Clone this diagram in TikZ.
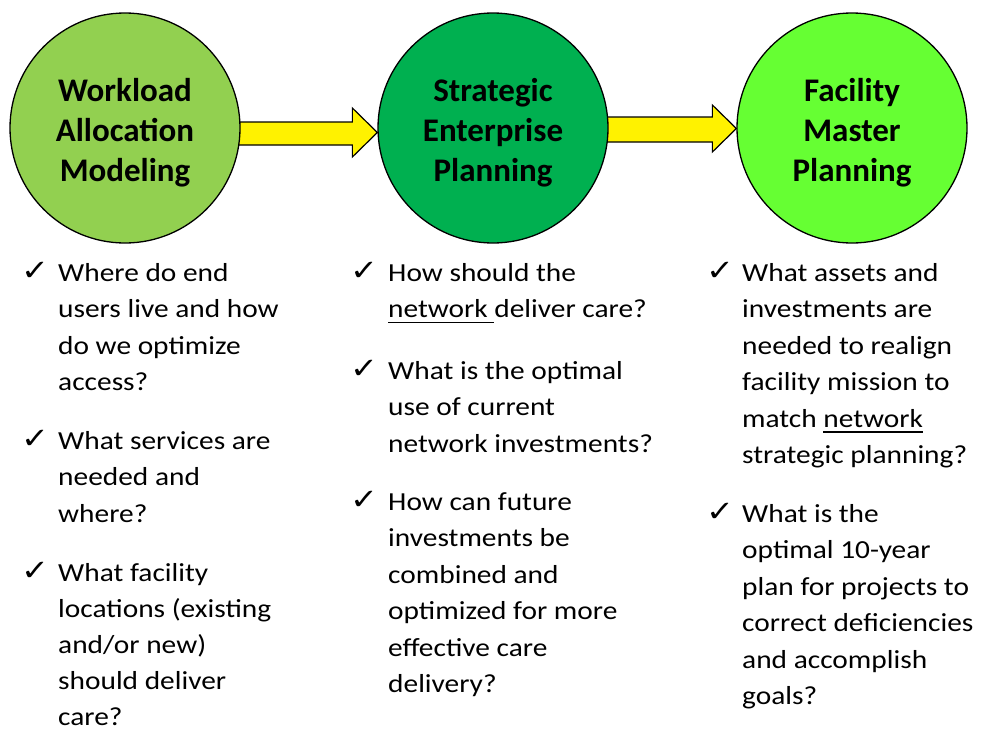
\documentclass[tikz,border=0pt]{standalone}
\usepackage{fontspec}
\setmainfont{Carlito}
\newfontfamily\bodyfont[FakeStretch=1.13]{Carlito}
\newfontfamily\symfont[FakeStretch=1.15]{DejaVu Sans}
\usetikzlibrary{calc}
\pgfdeclarelayer{bg}
\pgfsetlayers{bg,main}
\definecolor{gA}{HTML}{92D050}
\definecolor{gB}{HTML}{00B050}
\definecolor{gC}{HTML}{66FF33}
\newsavebox\ulbox
\newcommand\myul[1]{\sbox\ulbox{#1}\rlap{\rule[-5.5pt]{\wd\ulbox}{1.4pt}}\usebox\ulbox}
\newcommand\fl{\rule{0pt}{21pt}}
\newcommand\cl{\rule{0pt}{32pt}}
\begin{document}
\begin{tikzpicture}[x=1pt,y=-1pt,
  stage/.style={circle,draw=black,line width=1.3pt,minimum size=230pt,inner sep=0pt,align=center,
    font=\fontsize{33}{40}\selectfont\bfseries},
  bullet/.style={anchor=north west,inner sep=0pt,align=left,font=\bodyfont\fontsize{26}{36.5}\selectfont},
  tick/.style={anchor=base west,inner sep=0pt,font=\symfont\fontsize{29}{29}\selectfont},
  flow/.style={draw=black,line width=1.2pt,fill=yellow,line join=miter}]
\useasboundingbox (0,0) rectangle (982,728);
% stages
\node[stage,fill=gA] (c1) at (125,128) {\cl Workload\\Allocation\\Modeling};
\node[stage,fill=gB] (c2) at (493,128) {\cl Strategic\\Enterprise\\Planning};
\node[stage,fill=gC] (c3) at (852,128) {\cl Facility\\Master\\Planning};
% arrows
\begin{pgfonlayer}{bg}
\fill[white] (0,0) rectangle (982,728);
\draw[flow] ($(c1.east)+(-8,-6)$) -- ($(c2.west)+(-25,-6)$) -- ($(c2.west)+(-25,-20)$)
  -- ($(c2.west)+(0,4.5)$) -- ($(c2.west)+(-25,29)$) -- ($(c2.west)+(-25,17)$)
  -- ($(c1.east)+(-8,17)$) -- cycle;
\draw[flow] ($(c2.east)+(-8,-11)$) -- ($(c3.west)+(-24,-11)$) -- ($(c3.west)+(-24,-23)$)
  -- ($(c3.west)+(0,0.5)$) -- ($(c3.west)+(-24,24)$) -- ($(c3.west)+(-24,14)$)
  -- ($(c2.east)+(-8,14)$) -- cycle;
\end{pgfonlayer}
% column 1
\node[tick] (k1a) at (21,280) {✓};
\node[bullet] (b1a) at (58,260) {\fl Where do end\\users live and how\\do we optimize\\access?};
\node[tick] (k1b) at (21,448) {✓};
\node[bullet] (b1b) at (58,428) {\fl What services are\\needed and\\where?};
\node[tick] (k1c) at (21,580) {✓};
\node[bullet,font=\bodyfont\fontsize{26}{36}\selectfont] (b1c) at (58,560) {\fl What facility\\locations (existing\\and/or new)\\should deliver\\care?};
% column 2
\node[tick] (k2a) at (350,280) {✓};
\node[bullet] (b2a) at (388,260) {\fl How should the\\\myul{network\ }deliver care?};
\node[tick] (k2b) at (350,378) {✓};
\node[bullet] (b2b) at (388,358) {\fl What is the optimal\\use of current\\network investments?};
\node[tick] (k2c) at (350,509) {✓};
\node[bullet] (b2c) at (388,489) {\fl How can future\\investments be\\combined and\\optimized for more\\effective care\\delivery?};
% column 3
\node[tick] (k3a) at (706,280) {✓};
\node[bullet] (b3a) at (742,260) {\fl What assets and\\investments are\\needed to realign\\facility mission to\\match \myul{network}\\strategic planning?};
\node[tick] (k3b) at (706,521) {✓};
\node[bullet] (b3b) at (742,501) {\fl What is the\\optimal 10-year\\plan for projects to\\correct deficiencies\\and accomplish\\goals?};
\end{tikzpicture}
\end{document}
